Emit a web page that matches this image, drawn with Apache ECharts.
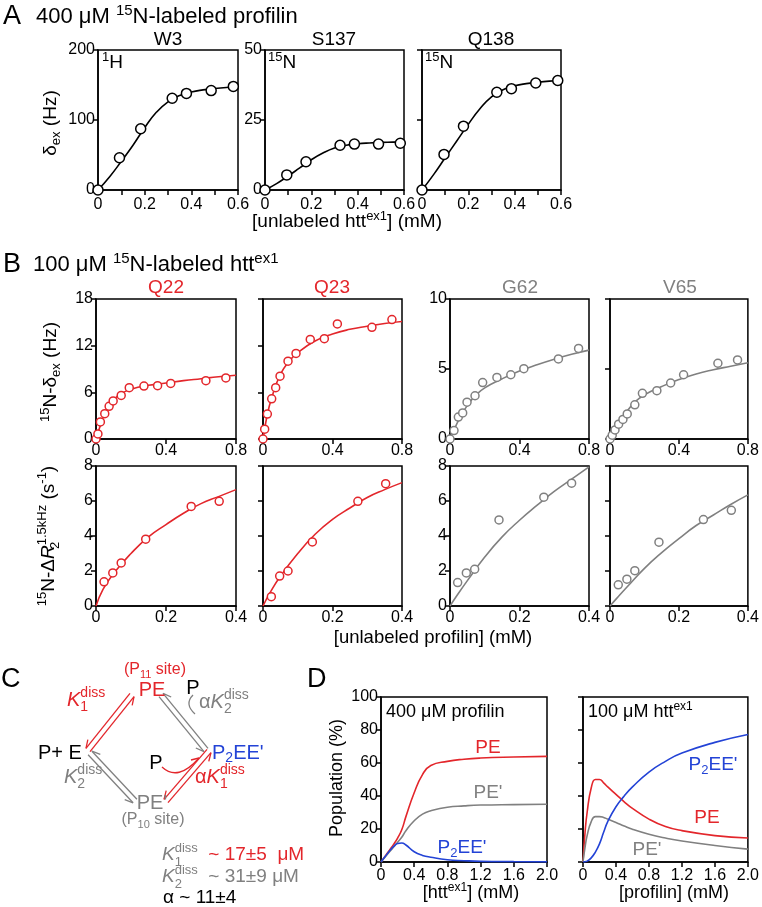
<!DOCTYPE html>
<html><head><meta charset="utf-8">
<script src="https://cdn.jsdelivr.net/npm/echarts@6/dist/echarts.min.js"></script>
<style>html,body{margin:0;padding:0;background:#fff}#c{width:762px;height:907px}</style>
</head><body><div id="c"></div><script>
// ---------- DATA ----------
// Panel A (x: [unlabeled htt ex1] mM)
const aCurveX = [0,0.05,0.1,0.15,0.2,0.25,0.3,0.35,0.4,0.45,0.5,0.55,0.6];
const w3X = [0,0.092,0.183,0.318,0.379,0.485,0.58];
const w3Y = [0,46,87.5,131,138,142,148];
const w3Curve = [0,19,41,64,89,111,126,135,140,143,145,146.5,147.5];
const s137X = [0,0.094,0.177,0.324,0.386,0.49,0.584];
const s137Y = [0,5.4,10.1,16,16.4,16.4,16.7];
const s137Curve = [0,2.3,5,7.9,10.8,13.2,15,16,16.5,16.8,17,17.1,17.2];
const q138X = [0,0.095,0.179,0.323,0.386,0.491,0.586];
const q138Y = [0,12.7,22.8,34.9,36.2,38.2,39.1];
const q138Curve = [0,5.5,11.5,17.5,23.5,29,33.3,35.8,37.2,38,38.5,38.9,39.2];
// Panel B top (dex, x: [unlabeled profilin] mM)
const bTopCurveX = [0,0.02,0.05,0.1,0.15,0.2,0.3,0.4,0.5,0.6,0.7,0.8];
const q22DexX = [0,0.011,0.025,0.05,0.075,0.098,0.144,0.19,0.274,0.352,0.427,0.628,0.742];
const q22DexY = [0,0.65,2.2,3.25,4.2,4.9,5.6,6.6,6.8,6.85,7.15,7.5,7.85];
const q22DexCurve = [0,1.4,3.3,5.0,5.9,6.4,6.9,7.2,7.5,7.75,8.0,8.2];
const q23DexX = [0,0.0096,0.025,0.05,0.073,0.098,0.144,0.19,0.272,0.353,0.428,0.627,0.742];
const q23DexY = [0,1.26,3.2,5.16,6.6,8.07,10.0,11.0,12.8,12.9,14.8,14.36,15.35];
const q23DexCurve = [0,2.6,5.3,8.3,10.0,11.1,12.6,13.5,14.1,14.5,14.85,15.1];
const g62DexX = [0,0.023,0.048,0.073,0.098,0.144,0.188,0.27,0.35,0.425,0.624,0.74];
const g62DexY = [0,0.6,1.57,1.86,2.63,3.09,4.03,4.4,4.59,5.02,5.72,6.47];
const g62DexCurve = [0,0.55,1.35,2.4,3.15,3.65,4.3,4.85,5.3,5.7,6.05,6.35];
const v65DexX = [0,0.013,0.029,0.05,0.075,0.1,0.144,0.188,0.272,0.352,0.427,0.626,0.74];
const v65DexY = [0,0.27,0.65,1.06,1.4,1.79,2.44,3.26,3.45,4.0,4.59,5.41,5.65];
const v65DexCurve = [0,0.4,1.05,2.0,2.7,3.15,3.75,4.25,4.65,4.95,5.2,5.45];
// Panel B bottom (dR2)
const bBotCurveX = [0,0.02,0.05,0.1,0.15,0.2,0.25,0.3,0.35,0.4];
const q22R2X = [0.023,0.048,0.072,0.142,0.272,0.352];
const q22R2Y = [1.38,1.89,2.46,3.82,5.69,5.98];
const q22R2Curve = [0,0.95,1.85,3.0,3.95,4.65,5.3,5.85,6.25,6.65];
const q23R2X = [0.024,0.048,0.072,0.142,0.273,0.353];
const q23R2Y = [0.53,1.71,2.0,3.66,5.98,6.99];
const q23R2Curve = [0,0.75,1.7,3.0,4.1,4.95,5.6,6.2,6.65,7.05];
const g62R2X = [0.022,0.047,0.071,0.141,0.27,0.35];
const g62R2Y = [1.34,1.89,2.1,4.92,6.22,7.02];
const g62R2Curve = [0,0.6,1.45,2.8,3.95,4.9,5.75,6.55,7.25,7.95];
const v65R2X = [0.024,0.049,0.072,0.142,0.271,0.352];
const v65R2Y = [1.21,1.53,2.02,3.65,4.94,5.47];
const v65R2Curve = [0,0.45,1.1,2.15,3.05,3.85,4.6,5.2,5.8,6.35];
// Panel D (population %)
const dLeftX = [0,0.05,0.1,0.15,0.2,0.25,0.3,0.4,0.5,0.6,0.8,1.0,1.2,1.6,2.0];
const dLeftPE = [0,3.5,7,10.5,14.5,19.5,27.5,42,53,58.5,61,62.3,63,63.6,64];
const dLeftPEp = [0,3,6,9,12,15,19,25,29,31,33.2,34,34.5,34.8,35];
const dLeftP2EE = [0,3.3,6.5,9.3,11.2,11.5,10.3,6.2,4.0,2.9,1.4,0.8,0.4,0.2,0.1];
const dRightX = [0,0.025,0.05,0.1,0.15,0.2,0.25,0.3,0.4,0.5,0.6,0.8,1.0,1.2,1.6,2.0];
const dRightPE = [0,18,30,45,50,50,48,45.5,41,36.5,32.5,26,21.5,19,16,14.5];
const dRightPEp = [0,9,16,24.5,27.5,27.5,27,26,24,21.8,19.8,16.8,14.5,12.7,10,7.8];
const dRightP2EE = [0,0.2,0.5,2.5,6,11,18,24.5,33.5,40,45.5,54.5,61,66,72.5,77.3];

// ---------- STYLE ----------
const FONT = 'Liberation Sans, Arial, Helvetica, sans-serif';
const RED = '#e3262b', GRAY = '#808080', BLUE = '#2343d6', BLACK = '#000';
const TICK = 16;

const grids = [
  {left:98, top:50, width:140, height:140},   //0 W3
  {left:265, top:50, width:139, height:140},  //1 S137
  {left:422, top:50, width:139, height:140},  //2 Q138
  {left:96, top:299, width:140, height:140},  //3
  {left:263, top:299, width:139, height:140}, //4
  {left:450, top:299, width:139, height:140}, //5
  {left:610, top:299, width:139, height:140}, //6
  {left:96, top:466, width:140, height:140},  //7
  {left:263, top:466, width:139, height:140}, //8
  {left:450, top:466, width:139, height:140}, //9
  {left:610, top:466, width:139, height:140}, //10
  {left:381, top:697, width:166, height:165}, //11
  {left:583, top:697, width:166, height:165}  //12
].map(g => Object.assign({show:true, borderColor:'#000', borderWidth:1.5, backgroundColor:'transparent', containLabel:false}, g));

function ax(gi, max, interval, showLabel, fmt, margin) {
  return {type:'value', gridIndex:gi, min:0, max:max, interval:interval,
    axisLine:{show:true, onZero:false, lineStyle:{color:'#000', width:1.5}},
    axisTick:{show:true, length:5, inside:false, lineStyle:{color:'#000', width:1.5}},
    axisLabel:{show:showLabel, color:'#000', fontSize:TICK, fontFamily:FONT, margin:margin||5, formatter:fmt},
    splitLine:{show:false}};
}
const fmtA = v => (Math.round(v*10) % 2 === 0 ? (v===0?'0':v.toFixed(1)) : '');
const fmt1 = v => (v===0 ? '0' : v.toFixed(1));
const fmtI = v => String(Math.round(v));

const xAxis = [
  ax(0,0.6,0.1,true,fmtA,7), ax(1,0.6,0.1,true,fmtA,7), ax(2,0.6,0.1,true,fmtA,7),
  ax(3,0.8,0.4,true,fmt1,4), ax(4,0.8,0.4,true,fmt1,4), ax(5,0.8,0.4,true,fmt1,4), ax(6,0.8,0.4,true,fmt1,4),
  ax(7,0.4,0.2,true,fmt1,4), ax(8,0.4,0.2,true,fmt1,4), ax(9,0.4,0.2,true,fmt1,4), ax(10,0.4,0.2,true,fmt1,4),
  ax(11,2,0.4,true,fmt1,6), ax(12,2,0.4,true,fmt1,6)
];
const yAxis = [
  ax(0,200,100,true,fmtI,3), ax(1,50,25,true,fmtI,3), ax(2,50,25,false,fmtI,3),
  ax(3,18,6,true,fmtI,3), ax(4,18,6,false,fmtI,3), ax(5,10,5,true,fmtI,3), ax(6,10,5,false,fmtI,3),
  ax(7,8,2,true,fmtI,3), ax(8,8,2,false,fmtI,3), ax(9,8,2,true,fmtI,3), ax(10,8,2,false,fmtI,3),
  ax(11,100,20,true,fmtI,3), ax(12,100,20,false,fmtI,3)
];

const zip = (xs, ys) => xs.map((x,i)=>[x, ys[i]]);
function curve(gi, xs, ys, color) {
  return {type:'line', xAxisIndex:gi, yAxisIndex:gi, data:zip(xs,ys), smooth:0.5,
    showSymbol:false, symbol:'none', lineStyle:{color:color, width:1.6}, silent:true, z:2, animation:false};
}
function pts(gi, xs, ys, color, size) {
  return {type:'scatter', xAxisIndex:gi, yAxisIndex:gi, data:zip(xs,ys), symbol:'circle', symbolSize:size,
    itemStyle:{color:'#fff', borderColor:color, borderWidth:1.5, opacity:1}, z:3, silent:true, animation:false, clip:false};
}
const series = [
  curve(0,aCurveX,w3Curve,BLACK), pts(0,w3X,w3Y,BLACK,10),
  curve(1,aCurveX,s137Curve,BLACK), pts(1,s137X,s137Y,BLACK,10),
  curve(2,aCurveX,q138Curve,BLACK), pts(2,q138X,q138Y,BLACK,10),
  curve(3,bTopCurveX,q22DexCurve,RED), pts(3,q22DexX,q22DexY,RED,8),
  curve(4,bTopCurveX,q23DexCurve,RED), pts(4,q23DexX,q23DexY,RED,8),
  curve(5,bTopCurveX,g62DexCurve,GRAY), pts(5,g62DexX,g62DexY,GRAY,8),
  curve(6,bTopCurveX,v65DexCurve,GRAY), pts(6,v65DexX,v65DexY,GRAY,8),
  curve(7,bBotCurveX,q22R2Curve,RED), pts(7,q22R2X,q22R2Y,RED,8),
  curve(8,bBotCurveX,q23R2Curve,RED), pts(8,q23R2X,q23R2Y,RED,8),
  curve(9,bBotCurveX,g62R2Curve,GRAY), pts(9,g62R2X,g62R2Y,GRAY,8),
  curve(10,bBotCurveX,v65R2Curve,GRAY), pts(10,v65R2X,v65R2Y,GRAY,8),
  curve(11,dLeftX,dLeftPE,RED), curve(11,dLeftX,dLeftPEp,GRAY), curve(11,dLeftX,dLeftP2EE,BLUE),
  curve(12,dRightX,dRightPE,RED), curve(12,dRightX,dRightPEp,GRAY), curve(12,dRightX,dRightP2EE,BLUE)
];

// ---------- TEXT / SCHEME ----------
function richFor(size, color, lh) {
  const s = Math.round(size*0.68);
  const base = {fontFamily:FONT, fill:color};
  return {
    sup:Object.assign({fontSize:s, verticalAlign:'top'}, base),
    sub:Object.assign({fontSize:s, verticalAlign:'bottom'}, base),
    subz:Object.assign({fontSize:s, verticalAlign:'bottom', width:0}, base),
    i:Object.assign({fontSize:size, fontStyle:'italic', lineHeight:lh}, base),
    r:Object.assign({fontSize:size, lineHeight:lh}, base, {fill:RED})
  };
}
// lhf: line-height factor controlling sup/sub offset
function T(x, y, text, size, color, align, rot, lhf) {
  align = align || 'left';
  const lh = Math.round(size*(lhf || 1.24));
  return {type:'text', x:x, y:y, rotation:rot||0, silent:true, z:10,
    style:{text:text, fontSize:size, fontFamily:FONT, fill:color, lineHeight:lh,
      align:align, textAlign:align, verticalAlign:'middle', textVerticalAlign:'middle',
      rich:richFor(size, color, lh)}};
}
function harpoonPair(ax1, ay1, bx1, by1, color) {
  const dx = bx1-ax1, dy = by1-ay1, L = Math.hypot(dx,dy);
  const ux = dx/L, uy = dy/L, nx = -uy, ny = ux, o = 2.6, bl = 8, bw = 4;
  const els = [];
  const f1 = [ax1+nx*o, ay1+ny*o], f2 = [bx1+nx*o, by1+ny*o];
  els.push({type:'polyline', shape:{points:[f1,f2]}, style:{stroke:color, lineWidth:1.3, fill:null}, silent:true});
  els.push({type:'polyline', shape:{points:[f2,[f2[0]-ux*bl+nx*bw, f2[1]-uy*bl+ny*bw]]}, style:{stroke:color, lineWidth:1.3, fill:null}, silent:true});
  const g1 = [bx1-nx*o, by1-ny*o], g2 = [ax1-nx*o, ay1-ny*o];
  els.push({type:'polyline', shape:{points:[g1,g2]}, style:{stroke:color, lineWidth:1.3, fill:null}, silent:true});
  els.push({type:'polyline', shape:{points:[g2,[g2[0]+ux*bl-nx*bw, g2[1]+uy*bl-ny*bw]]}, style:{stroke:color, lineWidth:1.3, fill:null}, silent:true});
  return els;
}
const KL = 1.42; // stacked sub/superscripts

const graphic = [
  // Panel A
  T(3,17,'A',27,BLACK),
  T(36,17,'400 μM {sup|15}N-labeled profilin',22,BLACK),
  T(168,40,'W3',19,BLACK,'center'), T(334,40,'S137',19,BLACK,'center'), T(491,40,'Q138',19,BLACK,'center'),
  T(102,63,'{sup|1}H',19,BLACK), T(268,63,'{sup|15}N',19,BLACK), T(425,63,'{sup|15}N',19,BLACK),
  T(51,123,'δ{sub|ex} (Hz)',19,BLACK,'center',Math.PI/2),
  T(347,222,'[unlabeled htt{sup|ex1}] (mM)',19,BLACK,'center'),
  // Panel B
  T(3,265,'B',27,BLACK),
  T(33,265,'100 μM {sup|15}N-labeled htt{sup|ex1}',22,BLACK),
  T(166,288,'Q22',19,RED,'center'), T(332,288,'Q23',19,RED,'center'),
  T(520,288,'G62',19,GRAY,'center'), T(680,288,'V65',19,GRAY,'center'),
  T(51,372,'{sup|15}N-δ{sub|ex} (Hz)',19,BLACK,'center',Math.PI/2),
  T(49,536,'{sup|15}N-Δ{i|R}{subz|2}{sup|1.5kHz} (s{sup|-1})',19,BLACK,'center',Math.PI/2,1.36),
  T(433,638,'[unlabeled profilin] (mM)',18.5,BLACK,'center'),
  // Panel C
  T(1,680,'C',27,BLACK),
  T(155,670,'(P{sub|11} site)',16,RED,'center'),
  T(152,690,'PE',20,RED,'center'),
  T(193,688,'P',20,BLACK,'center'),
  T(67,700,'{i|K}{subz|1}{sup|diss}',20,RED,'left',0,KL),
  T(199,702,'α{i|K}{subz|2}{sup|diss}',20,GRAY,'left',0,KL),
  T(38,753,'P+ E',20,BLACK),
  T(212,753,'P{sub|2}EE\'',20,BLUE),
  T(156,763,'P',20,BLACK,'center'),
  T(64,777,'{i|K}{subz|2}{sup|diss}',20,GRAY,'left',0,KL),
  T(195,777,'α{i|K}{subz|1}{sup|diss}',20,RED,'left',0,KL),
  T(152,803,'PE\'',20,GRAY,'center'),
  T(153,820,'(P{sub|10} site)',16,GRAY,'center'),
  T(162,855,'{i|K}{subz|1}{sup|diss}{r|  ~ 17±5  μM}',19,GRAY,'left',0,KL),
  T(162,877,'{i|K}{subz|2}{sup|diss}  ~ 31±9 μM',19,GRAY,'left',0,KL),
  T(163,898,'α ~ 11±4',19,BLACK),
  {type:'bezierCurve', shape:{x1:162,y1:767,cpx1:178,cpy1:782,x2:199,y2:758}, style:{stroke:RED,lineWidth:1.3,fill:null}, silent:true},
  {type:'polyline', shape:{points:[[199,758],[191,760]]}, style:{stroke:RED,lineWidth:1.3,fill:null}, silent:true},
  {type:'bezierCurve', shape:{x1:193,y1:695,cpx1:184,cpy1:704,x2:195,y2:714}, style:{stroke:GRAY,lineWidth:1.3,fill:null}, silent:true},
  ...harpoonPair(88,750,132,695,RED),
  ...harpoonPair(161,695,206,750,GRAY),
  ...harpoonPair(90,753,135,801,GRAY),
  ...harpoonPair(166,801,209,751,RED),
  // Panel D
  T(307,680,'D',27,BLACK),
  T(337,778,'Population (%)',18,BLACK,'center',Math.PI/2),
  T(386,712,'400 μM profilin',18,BLACK),
  T(588,712,'100 μM htt{sup|ex1}',18,BLACK),
  T(488,748,'PE',19,RED,'center'), T(488,793,'PE\'',19,GRAY,'center'), T(462,848,'P{sub|2}EE\'',19,BLUE,'center'),
  T(713,765,'P{sub|2}EE\'',19,BLUE,'center'), T(707,818,'PE',19,RED,'center'), T(647,850,'PE\'',19,GRAY,'center'),
  T(471,893,'[htt{sup|ex1}] (mM)',18,BLACK,'center'),
  T(674,893,'[profilin] (mM)',18,BLACK,'center')
];

const chart = echarts.init(document.getElementById('c'), null, {renderer:'canvas'});
chart.setOption({animation:false, backgroundColor:'#fff', grid:grids, xAxis:xAxis, yAxis:yAxis, series:series, graphic:graphic});
</script></body></html>
